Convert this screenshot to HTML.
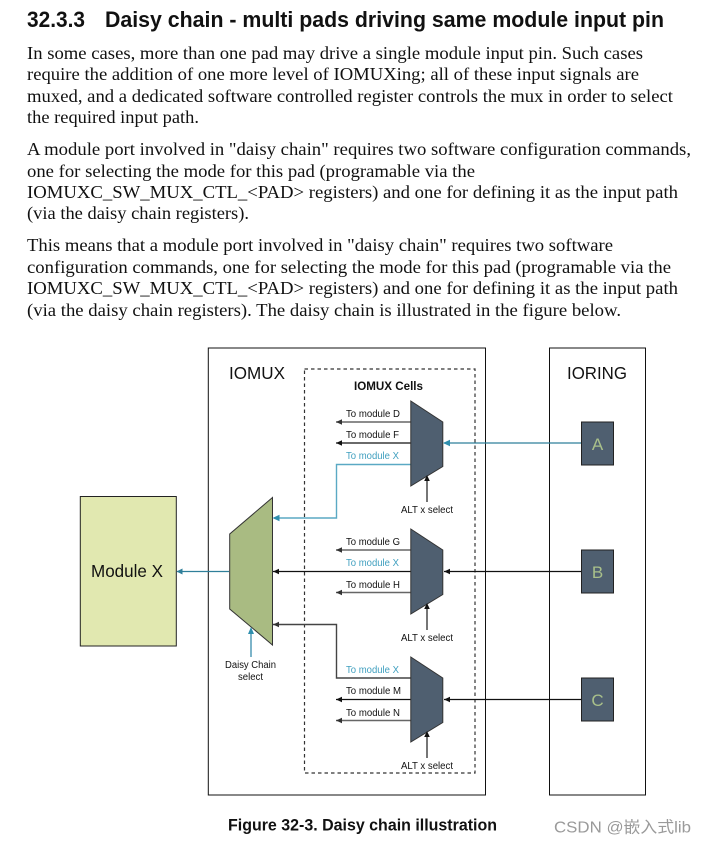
<!DOCTYPE html>
<html><head><meta charset="utf-8"><style>
html,body{margin:0;padding:0;background:#fff;width:705px;height:845px;overflow:hidden}
svg{display:block}
.b{font-family:"Liberation Serif",serif;font-size:17.6px;fill:#111}
.h{font-family:"Liberation Sans",sans-serif;font-size:22.5px;font-weight:bold;fill:#111}
.s{font-family:"Liberation Sans",sans-serif;font-size:9.8px;fill:#111}
.x{font-family:"Liberation Sans",sans-serif;font-size:9.8px;fill:#3f9fbf}
.l{font-family:"Liberation Sans",sans-serif;font-size:17.5px;fill:#111}
.p{font-family:"Liberation Sans",sans-serif;font-size:17px;fill:#a9c08a}
</style></head><body>
<svg width="705" height="845" viewBox="0 0 705 845" xmlns="http://www.w3.org/2000/svg">
<defs>
<g id="ah"><path d="M0 0l6-2.8v5.6z" fill="#111"/></g>
<g id="ag"><path d="M0 0l6-2.8v5.6z" fill="#333"/></g>
</defs>
<text class="h" x="27" y="27" textLength="58" lengthAdjust="spacingAndGlyphs">32.3.3</text>
<text class="h" x="105" y="27" textLength="559" lengthAdjust="spacingAndGlyphs">Daisy chain - multi pads driving same module input pin</text>
<g class="b">
<text x="27" y="59" textLength="616" lengthAdjust="spacingAndGlyphs">In some cases, more than one pad may drive a single module input pin. Such cases</text>
<text x="27" y="80" textLength="612" lengthAdjust="spacingAndGlyphs">require the addition of one more level of IOMUXing; all of these input signals are</text>
<text x="27" y="102" textLength="646" lengthAdjust="spacingAndGlyphs">muxed, and a dedicated software controlled register controls the mux in order to select</text>
<text x="27" y="123" textLength="172" lengthAdjust="spacingAndGlyphs">the required input path.</text>
<text x="27" y="155" textLength="664" lengthAdjust="spacingAndGlyphs">A module port involved in "daisy chain" requires two software configuration commands,</text>
<text x="27" y="177" textLength="448" lengthAdjust="spacingAndGlyphs">one for selecting the mode for this pad (programable via the</text>
<text x="27" y="198" textLength="651" lengthAdjust="spacingAndGlyphs">IOMUXC_SW_MUX_CTL_&lt;PAD&gt; registers) and one for defining it as the input path</text>
<text x="27" y="219" textLength="222" lengthAdjust="spacingAndGlyphs">(via the daisy chain registers).</text>
<text x="27" y="251" textLength="586" lengthAdjust="spacingAndGlyphs">This means that a module port involved in "daisy chain" requires two software</text>
<text x="27" y="273" textLength="644" lengthAdjust="spacingAndGlyphs">configuration commands, one for selecting the mode for this pad (programable via the</text>
<text x="27" y="294" textLength="651" lengthAdjust="spacingAndGlyphs">IOMUXC_SW_MUX_CTL_&lt;PAD&gt; registers) and one for defining it as the input path</text>
<text x="27" y="316" textLength="594" lengthAdjust="spacingAndGlyphs">(via the daisy chain registers). The daisy chain is illustrated in the figure below.</text>
</g>

<rect x="208.3" y="348" width="277.2" height="447" fill="#fff" stroke="#111" stroke-width="1"/>
<rect x="549.5" y="348" width="96" height="447" fill="#fff" stroke="#111" stroke-width="1"/>
<rect x="304.5" y="369" width="170.5" height="404" fill="none" stroke="#333" stroke-width="1.2" stroke-dasharray="3.5 3"/>

<text class="l" x="229" y="379" textLength="56" lengthAdjust="spacingAndGlyphs">IOMUX</text>
<text class="l" x="567" y="379" textLength="60" lengthAdjust="spacingAndGlyphs">IORING</text>
<text x="354" y="390" font-family="Liberation Sans, sans-serif" font-size="11.5" font-weight="bold" fill="#111" textLength="69" lengthAdjust="spacingAndGlyphs">IOMUX Cells</text>

<!-- module X -->
<rect x="80.3" y="496.5" width="96" height="149.5" fill="#e1e8b0" stroke="#222" stroke-width="1"/>
<text class="l" x="91" y="577" textLength="72" lengthAdjust="spacingAndGlyphs">Module X</text>

<!-- wires -->
<g fill="none" stroke-width="1.2">
<path d="M229 571.5H177" stroke="#2f7f9a"/>
<path d="M411 571.5H273" stroke="#111"/>
<path d="M411 464.5H336.5V518H274" stroke="#5aa9c4" stroke-width="1.4"/>
<path d="M411 678H336.5V624.5H273" stroke="#444" stroke-width="1.4"/>
<path d="M411 422H336" stroke="#666" stroke-width="1.6"/>
<path d="M411 443H336" stroke="#111"/>
<path d="M411 550H336" stroke="#666" stroke-width="1.6"/>
<path d="M411 592.5H336" stroke="#666" stroke-width="1.6"/>
<path d="M411 699.5H336" stroke="#111"/>
<path d="M411 720.5H336" stroke="#666" stroke-width="1.6"/>
<path d="M581 443H444" stroke="#2f7f9a"/>
<path d="M581 571.5H444" stroke="#111"/>
<path d="M581 699.5H444" stroke="#111"/>
<path d="M427 502V478" stroke="#666" stroke-width="1.8"/>
<path d="M427 630V606" stroke="#666" stroke-width="1.8"/>
<path d="M427 758V734" stroke="#666" stroke-width="1.8"/>
<path d="M251 657V629" stroke="#7db4c9" stroke-width="2"/>
</g>

<!-- muxes -->
<path d="M272.5 497.5L229.7 534V609L272.5 645Z" fill="#a9bb82" stroke="#333" stroke-width="1"/>
<path d="M410.8 401L442.8 422V466.5L410.8 486Z" fill="#4f5f70" stroke="#333" stroke-width="1"/>
<path d="M410.8 529L442.8 550V594.5L410.8 614Z" fill="#4f5f70" stroke="#333" stroke-width="1"/>
<path d="M410.8 657L442.8 678V722.5L410.8 742Z" fill="#4f5f70" stroke="#333" stroke-width="1"/>

<!-- arrowheads -->
<path d="M176.5 571.5l6-3v6z" fill="#2f7f9a"/>
<path d="M272.5 518l7-3.2v6.4z" fill="#2f8fae"/>
<use href="#ah" x="273" y="571.5"/>
<use href="#ag" x="273" y="624.5"/>
<path d="M443 443l7-3.2v6.4z" fill="#2f8fae"/>
<use href="#ah" x="444" y="571.5"/>
<use href="#ah" x="444" y="699.5"/>
<use href="#ag" x="336" y="422"/>
<use href="#ah" x="336" y="443"/>
<use href="#ag" x="336" y="550"/>
<use href="#ag" x="336" y="592.5"/>
<use href="#ah" x="336" y="699.5"/>
<use href="#ag" x="336" y="720.5"/>
<path d="M427 475l-2.8 6h5.6z" fill="#111"/>
<path d="M427 603l-2.8 6h5.6z" fill="#111"/>
<path d="M427 731l-2.8 6h5.6z" fill="#111"/>
<path d="M251 627l-3 7h6z" fill="#2f8fae"/>

<!-- labels -->
<g>
<text class="s" x="346" y="417" textLength="54" lengthAdjust="spacingAndGlyphs">To module D</text>
<text class="s" x="346" y="438" textLength="53" lengthAdjust="spacingAndGlyphs">To module F</text>
<text class="x" x="346" y="459" textLength="53" lengthAdjust="spacingAndGlyphs">To module X</text>
<text class="s" x="346" y="545" textLength="54" lengthAdjust="spacingAndGlyphs">To module G</text>
<text class="x" x="346" y="566" textLength="53" lengthAdjust="spacingAndGlyphs">To module X</text>
<text class="s" x="346" y="588" textLength="54" lengthAdjust="spacingAndGlyphs">To module H</text>
<text class="x" x="346" y="673" textLength="53" lengthAdjust="spacingAndGlyphs">To module X</text>
<text class="s" x="346" y="694" textLength="55" lengthAdjust="spacingAndGlyphs">To module M</text>
<text class="s" x="346" y="716" textLength="54" lengthAdjust="spacingAndGlyphs">To module N</text>
<text class="s" x="401" y="513" textLength="52" lengthAdjust="spacingAndGlyphs">ALT x select</text>
<text class="s" x="401" y="641" textLength="52" lengthAdjust="spacingAndGlyphs">ALT x select</text>
<text class="s" x="401" y="769" textLength="52" lengthAdjust="spacingAndGlyphs">ALT x select</text>
<text class="s" x="225" y="668" textLength="51" lengthAdjust="spacingAndGlyphs">Daisy Chain</text>
<text class="s" x="238" y="680" textLength="25" lengthAdjust="spacingAndGlyphs">select</text>
</g>

<!-- pads -->
<rect x="581.5" y="422" width="32" height="43" fill="#4f5f70" stroke="#222" stroke-width="1"/>
<rect x="581.5" y="550" width="32" height="43" fill="#4f5f70" stroke="#222" stroke-width="1"/>
<rect x="581.5" y="678" width="32" height="43" fill="#4f5f70" stroke="#222" stroke-width="1"/>
<text class="p" x="597.5" y="450" text-anchor="middle">A</text>
<text class="p" x="597.5" y="578" text-anchor="middle">B</text>
<text class="p" x="597.5" y="706" text-anchor="middle">C</text>

<text x="228" y="830.5" font-family="Liberation Sans, sans-serif" font-size="16.5" font-weight="bold" fill="#111" textLength="269" lengthAdjust="spacingAndGlyphs">Figure 32-3. Daisy chain illustration</text>
<text x="554" y="832.5" font-family="Liberation Sans, 'Noto Sans CJK SC', sans-serif" font-size="16" fill="#9a9a9a" textLength="137" lengthAdjust="spacingAndGlyphs">CSDN @嵌入式lib</text>
</svg>
</body></html>
